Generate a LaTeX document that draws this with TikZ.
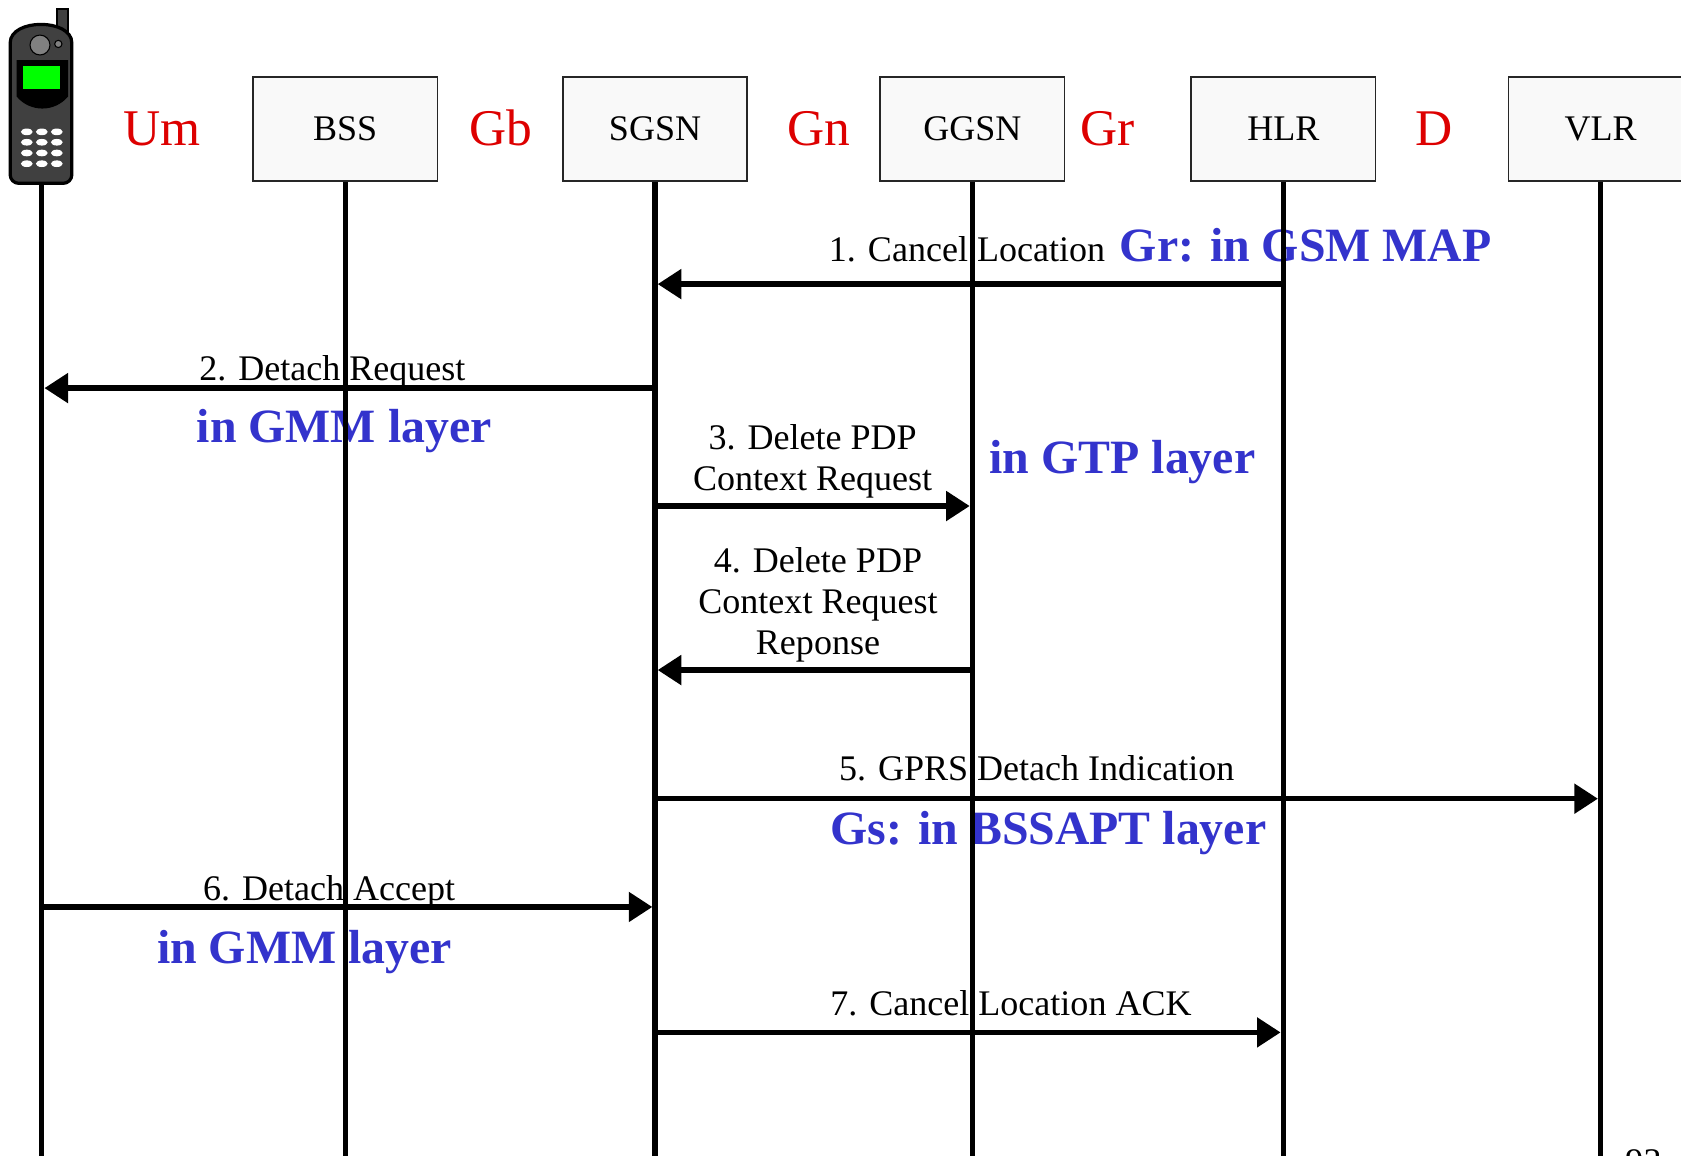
\documentclass[tikz,border=0pt]{standalone}
\usepackage{fontspec}
\setmainfont{Liberation Serif}
\usetikzlibrary{arrows.meta}
\definecolor{ifred}{HTML}{DD0000}
\definecolor{ifblue}{HTML}{3333CC}
\definecolor{boxfill}{HTML}{F9F9F9}
\definecolor{phonebody}{HTML}{404040}
\definecolor{screengreen}{HTML}{00FF00}
\tikzset{
  entity/.style={draw=black!85, line width=1.5pt, fill=boxfill, minimum width=172pt,
    minimum height=97pt, inner sep=0pt, font=\fontsize{33.6}{38.5}\selectfont},
  iface/.style={text=ifred, inner sep=0pt, anchor=base, font=\fontsize{48}{52}\selectfont},
  msgtext/.style={inner sep=0pt, align=center, font=\fontsize{33.6}{38.5}\selectfont},
  layer/.style={text=ifblue, inner sep=0pt, anchor=base, font=\fontsize{44.6}{50}\selectfont\bfseries},
  lifeline/.style={line width=5pt},
  msg/.style={line width=5pt, -{Triangle[length=22pt,width=27pt]}, shorten >=2.5pt, shorten <=2.5pt},
}
\begin{document}
\begin{tikzpicture}[x=1pt,y=-1pt]
  \useasboundingbox (0,0) rectangle (1568,1078);
  \clip (0,0) rectangle (1568,1078);

  % MOBILE STATION
  \draw[line width=2pt, fill=phonebody] (53,8) rectangle (63.5,40); % antenna
  \draw[line width=3pt, fill=phonebody, rounded corners=8pt] (9.5,40) -- (9.5,171) -- (67,171)
    [sharp corners] -- (67,40) .. controls (67,17) and (9.5,17) .. (9.5,40) -- cycle;
  \fill[black] (15.5,56) -- (63.5,56) -- (63.5,90) .. controls (51,105) and (28,105) .. (15.5,90) -- cycle;
  \fill[screengreen] (21.7,62) rectangle (56,83);
  \draw[line width=1pt, fill=gray] (37.3,42) circle (9.3);
  \draw[line width=1pt, fill=gray] (54.4,41) circle (3.4);
  \foreach \kx in {25,39,53}
    \foreach \ky in {123,132.7,142.7,152.7}
      \fill[white] (\kx,\ky) ellipse (5.5 and 3.1);
  \coordinate (ms) at (39,171);

  % NETWORK ENTITIES
  \node[entity] (bss) at (322,120.5) {BSS};
  \node[entity] (sgsn) at (611,120.5) {SGSN};
  \node[entity] (ggsn) at (907,120.5) {GGSN};
  \node[entity] (hlr) at (1197,120.5) {HLR};
  \node[entity] (vlr) at (1493,120.5) {VLR};

  % INTERFACES
  \node[iface] (um) at (151,136) {Um};
  \node[iface] (gb) at (467,136) {Gb};
  \node[iface] (gn) at (764,136) {Gn};
  \node[iface] (gr) at (1033,136) {Gr};
  \node[iface] (d) at (1338,136) {D};

  % LABELS
  \node[msgtext, anchor=base] (lab1) at (902,244) {1. Cancel Location};
  \node[layer] (grmap) at (1218,244) {Gr: in GSM MAP};
  \node[msgtext, anchor=base] (lab2) at (310,355) {2. Detach Request};
  \node[layer] (gmm1) at (321,413) {in GMM layer};
  \node[msgtext] (lab3) at (758,430) {3. Delete PDP\\Context Request};
  \node[layer] (gtp) at (1047,442) {in GTP layer};
  \node[msgtext] (lab4) at (763,564) {4. Delete PDP\\Context Request\\Reponse};
  \node[msgtext, anchor=base] (lab5) at (967,728) {5. GPRS Detach Indication};
  \node[layer] (gs) at (978,788) {Gs: in BSSAPT layer};
  \node[msgtext, anchor=base] (lab6) at (307,840) {6. Detach Accept};
  \node[layer] (gmm2) at (284,899) {in GMM layer};
  \node[msgtext, anchor=base] (lab7) at (943,947) {7. Cancel Location ACK};
  \node[msgtext, anchor=base] (page) at (1533,1095) {93};

  % LIFELINES
  \coordinate (ms-end) at (39,1080);
  \coordinate (bss-end) at (322,1080);
  \coordinate (sgsn-end) at (611,1080);
  \coordinate (ggsn-end) at (907,1080);
  \coordinate (hlr-end) at (1197,1080);
  \coordinate (vlr-end) at (1493,1080);
  \draw[lifeline] (ms) -- (ms-end);
  \draw[lifeline] (bss.south) -- (bss-end);
  \draw[lifeline] (sgsn.south) -- (sgsn-end);
  \draw[lifeline] (ggsn.south) -- (ggsn-end);
  \draw[lifeline] (hlr.south) -- (hlr-end);
  \draw[lifeline] (vlr.south) -- (vlr-end);

  % MESSAGES
  \coordinate (m1-hlr) at (1197,265); \coordinate (m1-sgsn) at (611,265);
  \coordinate (m2-sgsn) at (611,362); \coordinate (m2-ms) at (39,362);
  \coordinate (m3-sgsn) at (611,472); \coordinate (m3-ggsn) at (907,472);
  \coordinate (m4-ggsn) at (907,625); \coordinate (m4-sgsn) at (611,625);
  \coordinate (m5-sgsn) at (611,745); \coordinate (m5-vlr) at (1493,745);
  \coordinate (m6-ms) at (39,846); \coordinate (m6-sgsn) at (611,846);
  \coordinate (m7-sgsn) at (611,963); \coordinate (m7-hlr) at (1197,963);
  \draw[msg] (m1-hlr) -- (m1-sgsn);
  \draw[msg] (m2-sgsn) -- (m2-ms);
  \draw[msg] (m3-sgsn) -- (m3-ggsn);
  \draw[msg] (m4-ggsn) -- (m4-sgsn);
  \draw[msg] (m5-sgsn) -- (m5-vlr);
  \draw[msg] (m6-ms) -- (m6-sgsn);
  \draw[msg] (m7-sgsn) -- (m7-hlr);
\end{tikzpicture}
\end{document}
